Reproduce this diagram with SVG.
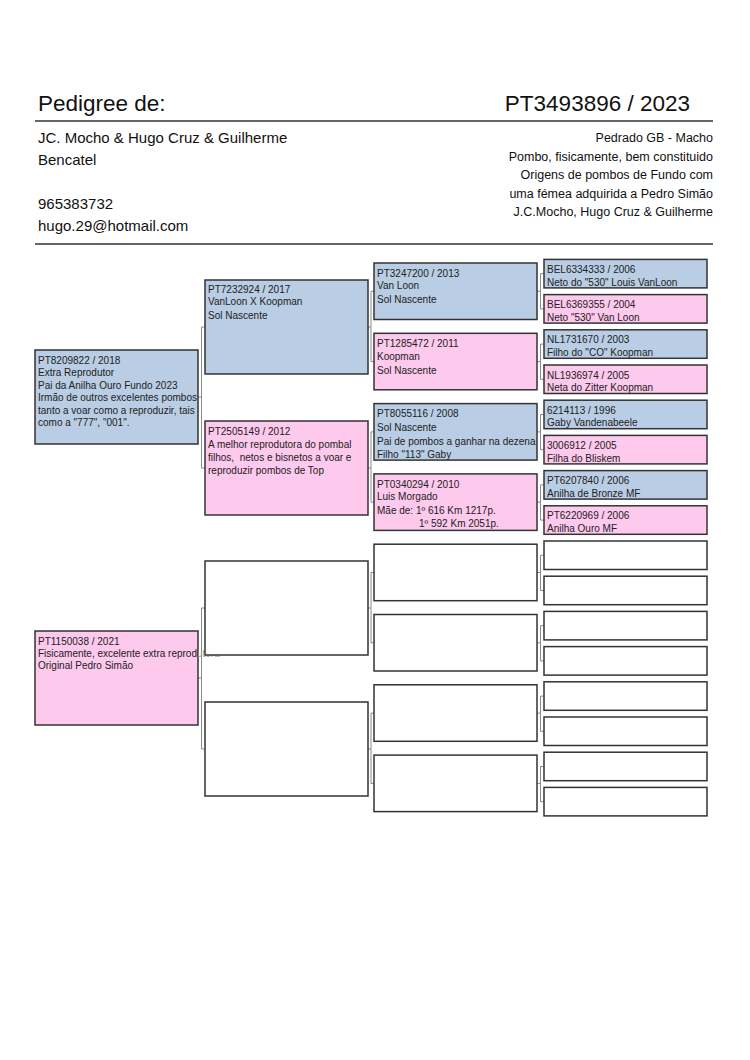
<svg xmlns="http://www.w3.org/2000/svg" width="750" height="1060" viewBox="0 0 750 1060">
<defs>
<style>
text{font-family:"Liberation Sans",Arial,sans-serif;fill:#222}
.h{font-size:22.5px;fill:#111}
.il{font-size:15px;fill:#111}
.ir{font-size:12.5px;fill:#111;text-anchor:end}
.t{font-size:10px}
.b{fill:#b9cde4;stroke:#333;stroke-width:1.5}
.p{fill:#fdc9ec;stroke:#333;stroke-width:1.5}
.w{fill:#fff;stroke:#333;stroke-width:1.5}
.rule{stroke:#333;stroke-width:1.3}
.c{fill:none;stroke:#8a8a8a;stroke-width:1}
</style>
<linearGradient id="fade" gradientUnits="userSpaceOnUse" x1="38" y1="0" x2="222" y2="0">
<stop offset="0" stop-color="#222"/>
<stop offset="0.87" stop-color="#222"/>
<stop offset="0.87" stop-color="#9a9a9a"/>
<stop offset="1" stop-color="#9a9a9a"/>
</linearGradient>
</defs>
<rect width="750" height="1060" fill="#fff"/>
<g id="header">
<text class="h" x="38" y="111">Pedigree de:</text>
<text class="h" x="690" y="111" text-anchor="end">PT3493896 / 2023</text>
<line class="rule" x1="35" y1="121" x2="713" y2="121"/>
<text class="il" x="38" y="143">JC. Mocho &amp; Hugo Cruz &amp; Guilherme</text>
<text class="il" x="38" y="165">Bencatel</text>
<text class="il" x="38" y="209">965383732</text>
<text class="il" x="38" y="231">hugo.29@hotmail.com</text>
<text class="ir" x="713" y="142">Pedrado GB - Macho</text>
<text class="ir" x="713" y="160.5">Pombo, fisicamente, bem constituido</text>
<text class="ir" x="713" y="179">Origens de pombos de Fundo com</text>
<text class="ir" x="713" y="197.5">uma fémea adquirida a Pedro Simão</text>
<text class="ir" x="713" y="216">J.C.Mocho, Hugo Cruz &amp; Guilherme</text>
<line class="rule" x1="35" y1="244" x2="713" y2="244"/>
</g>
<g id="connectors">
<path class="c" d="M198,397 H201.5 M205,327 H201.5 V468 H205"/>
<path class="c" d="M198,678 H201.5 M205,608 H201.5 V749 H205"/>
<path class="c" d="M368,327 H371 M374,291.3 H371 V361.6 H374"/>
<path class="c" d="M368,468 H371 M374,431.9 H371 V502.2 H374"/>
<path class="c" d="M368,608 H371 M374,572.5 H371 V642.8 H374"/>
<path class="c" d="M368,749 H371 M374,713.1 H371 V783.4 H374"/>
<path class="c" d="M537,291.3 H540.5 M544,273.7 H540.5 V308.9 H544"/>
<path class="c" d="M537,361.6 H540.5 M544,344.1 H540.5 V379.3 H544"/>
<path class="c" d="M537,431.9 H540.5 M544,414.5 H540.5 V449.7 H544"/>
<path class="c" d="M537,502.2 H540.5 M544,484.9 H540.5 V520.1 H544"/>
<path class="c" d="M537,572.5 H540.5 M544,555.3 H540.5 V590.5 H544"/>
<path class="c" d="M537,642.8 H540.5 M544,625.7 H540.5 V660.9 H544"/>
<path class="c" d="M537,713.1 H540.5 M544,696.1 H540.5 V731.3 H544"/>
<path class="c" d="M537,783.4 H540.5 M544,766.5 H540.5 V801.7 H544"/>
</g>
<g id="g1a"><rect class="b" x="35" y="350" width="163" height="94"/>
<text class="t" x="38" y="363.5">PT8209822 / 2018</text>
<text class="t" x="38" y="376">Extra Reprodutor</text>
<text class="t" x="38" y="388.5">Pai da Anilha Ouro Fundo 2023</text>
<text class="t" x="38" y="401">Irmão de outros excelentes pombos</text>
<text class="t" x="38" y="413.5">tanto a voar como a reproduzir, tais</text>
<text class="t" x="38" y="426">como a "777", "001".</text></g>
<g id="g1b"><rect class="p" x="35" y="631" width="163" height="94"/>
<text class="t" x="38" y="644.5">PT1150038 / 2021</text>
<text class="t" x="38" y="656.5" fill="url(#fade)" style="fill:url(#fade)">Fisicamente, excelente extra reprodutora</text>
<text class="t" x="38" y="668.5">Original Pedro Simão</text></g>
<g id="g2a"><rect class="b" x="205" y="280" width="163" height="94"/>
<text class="t" x="208" y="292.5">PT7232924 / 2017</text>
<text class="t" x="208" y="305">VanLoon X Koopman</text>
<text class="t" x="208" y="319">Sol Nascente</text></g>
<g id="g2b"><rect class="p" x="205" y="421" width="163" height="94"/>
<text class="t" x="208" y="435">PT2505149 / 2012</text>
<text class="t" x="208" y="447.6">A melhor reprodutora do pombal</text>
<text class="t" x="208" y="460.5" xml:space="preserve" style="white-space:pre">filhos,  netos e bisnetos a voar e</text>
<text class="t" x="208" y="473.5">reproduzir pombos de Top</text></g>
<g id="g2c"><rect class="w" x="205" y="561" width="163" height="94"/></g>
<g id="g2d"><rect class="w" x="205" y="702" width="163" height="94"/></g>
<g id="g3a"><rect class="b" x="374" y="263" width="163" height="56.5"/>
<text class="t" x="377" y="276.5">PT3247200 / 2013</text>
<text class="t" x="377" y="289">Van Loon</text>
<text class="t" x="377" y="303">Sol Nascente</text></g>
<g id="g3b"><rect class="p" x="374" y="333.3" width="163" height="56.5"/>
<text class="t" x="377" y="347">PT1285472 / 2011</text>
<text class="t" x="377" y="359.5">Koopman</text>
<text class="t" x="377" y="373.5">Sol Nascente</text></g>
<g id="g3c"><rect class="b" x="374" y="403.6" width="163" height="56.5"/>
<text class="t" x="377" y="417">PT8055116 / 2008</text>
<text class="t" x="377" y="430.5">Sol Nascente</text>
<text class="t" x="377" y="444.5">Pai de pombos a ganhar na dezena</text>
<text class="t" x="377" y="458">Filho "113" Gaby</text></g>
<g id="g3d"><rect class="p" x="374" y="473.9" width="163" height="56.5"/>
<text class="t" x="377" y="488">PT0340294 / 2010</text>
<text class="t" x="377" y="499.5">Luis Morgado</text>
<text class="t" x="377" y="513.5">Mãe de: 1º 616 Km 1217p.</text>
<text class="t" x="419" y="527">1º 592 Km 2051p.</text></g>
<g id="g3e"><rect class="w" x="374" y="544.2" width="163" height="56.5"/></g>
<g id="g3f"><rect class="w" x="374" y="614.5" width="163" height="56.5"/></g>
<g id="g3g"><rect class="w" x="374" y="684.8" width="163" height="56.5"/></g>
<g id="g3h"><rect class="w" x="374" y="755.1" width="163" height="56.5"/></g>
<g id="g4a"><rect class="b" x="544" y="259.4" width="163" height="28.5"/>
<text class="t" x="547" y="273">BEL6334333 / 2006</text>
<text class="t" x="547" y="285.5">Neto do "530" Louis VanLoon</text></g>
<g id="g4b"><rect class="p" x="544" y="294.6" width="163" height="28.5"/>
<text class="t" x="547" y="308.2">BEL6369355 / 2004</text>
<text class="t" x="547" y="320.7">Neto "530" Van Loon</text></g>
<g id="g4c"><rect class="b" x="544" y="329.8" width="163" height="28.5"/>
<text class="t" x="547" y="343.4">NL1731670 / 2003</text>
<text class="t" x="547" y="355.9">Filho do "CO" Koopman</text></g>
<g id="g4d"><rect class="p" x="544" y="365" width="163" height="28.5"/>
<text class="t" x="547" y="378.6">NL1936974 / 2005</text>
<text class="t" x="547" y="391.1">Neta do Zitter Koopman</text></g>
<g id="g4e"><rect class="b" x="544" y="400.2" width="163" height="28.5"/>
<text class="t" x="547" y="413.8">6214113 / 1996</text>
<text class="t" x="547" y="426.3">Gaby Vandenabeele</text></g>
<g id="g4f"><rect class="p" x="544" y="435.4" width="163" height="28.5"/>
<text class="t" x="547" y="449">3006912 / 2005</text>
<text class="t" x="547" y="461.5">Filha do Bliskem</text></g>
<g id="g4g"><rect class="b" x="544" y="470.6" width="163" height="28.5"/>
<text class="t" x="547" y="484.2">PT6207840 / 2006</text>
<text class="t" x="547" y="496.7">Anilha de Bronze MF</text></g>
<g id="g4h"><rect class="p" x="544" y="505.8" width="163" height="28.5"/>
<text class="t" x="547" y="519.4">PT6220969 / 2006</text>
<text class="t" x="547" y="531.9">Anilha Ouro MF</text></g>
<g id="g4i"><rect class="w" x="544" y="541" width="163" height="28.5"/></g>
<g id="g4j"><rect class="w" x="544" y="576.2" width="163" height="28.5"/></g>
<g id="g4k"><rect class="w" x="544" y="611.4" width="163" height="28.5"/></g>
<g id="g4l"><rect class="w" x="544" y="646.6" width="163" height="28.5"/></g>
<g id="g4m"><rect class="w" x="544" y="681.8" width="163" height="28.5"/></g>
<g id="g4n"><rect class="w" x="544" y="717" width="163" height="28.5"/></g>
<g id="g4o"><rect class="w" x="544" y="752.2" width="163" height="28.5"/></g>
<g id="g4p"><rect class="w" x="544" y="787.4" width="163" height="28.5"/></g>
</svg>
